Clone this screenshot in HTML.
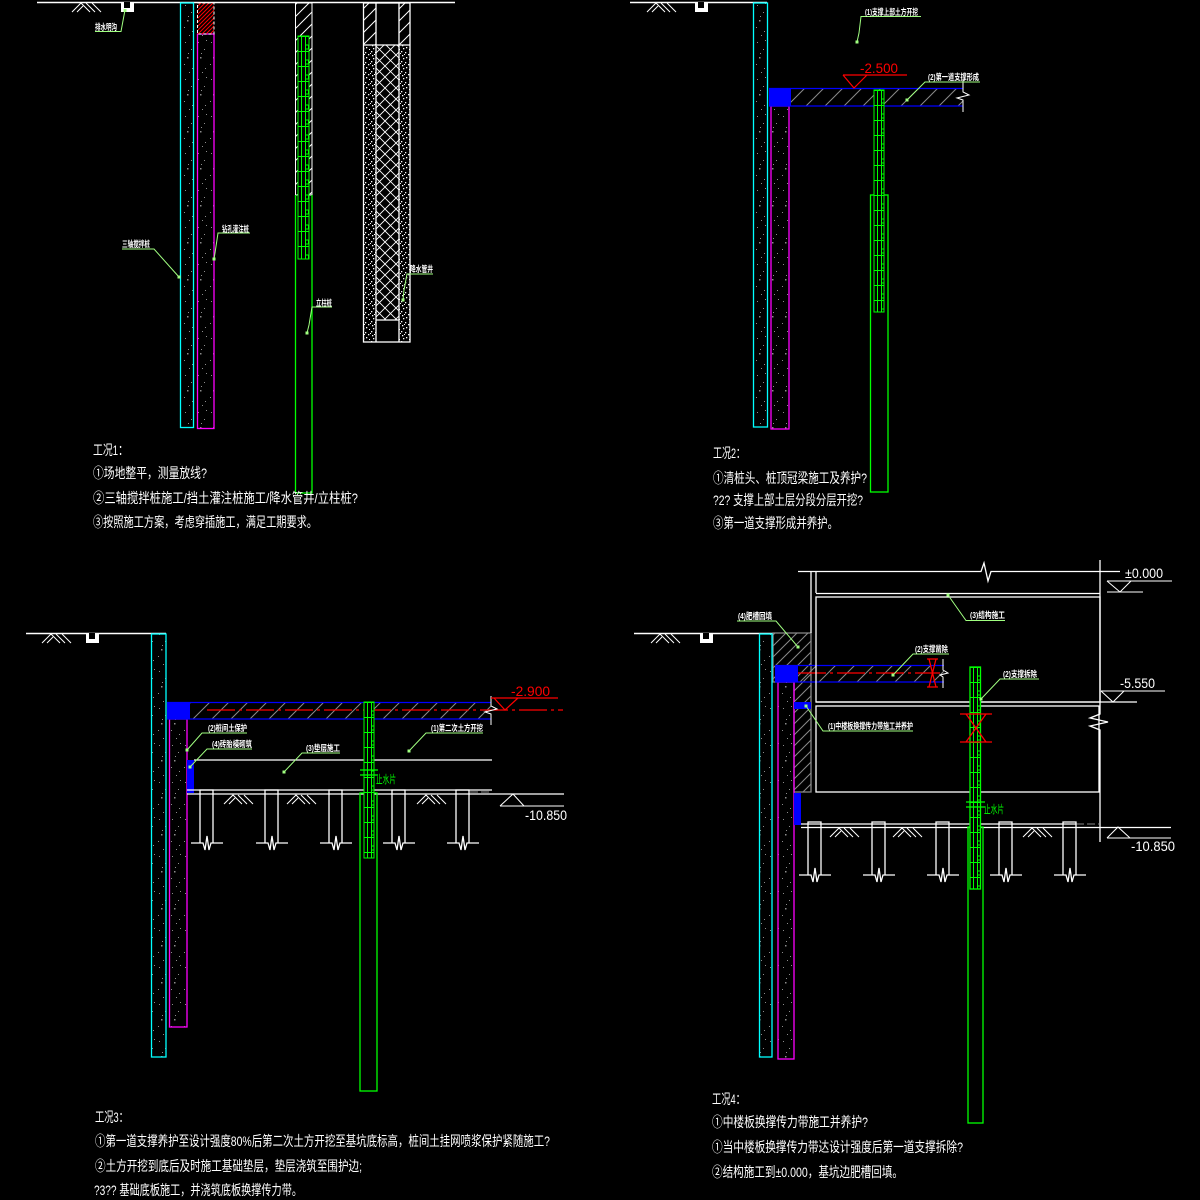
<!DOCTYPE html>
<html><head><meta charset="utf-8"><style>html,body{margin:0;padding:0;background:#000;}svg{display:block}</style></head>
<body>
<svg xmlns="http://www.w3.org/2000/svg" width="1200" height="1200" viewBox="0 0 1200 1200">
<defs>
<pattern id="hg" patternUnits="userSpaceOnUse" width="19" height="19"><path d="M0,19 L19,0 M-1,1 L1,-1 M18,20 L20,18" stroke="#8a8a8a" stroke-width="1"/></pattern>
<pattern id="hg2" patternUnits="userSpaceOnUse" width="11" height="11"><path d="M0,11 L11,0 M-1,1 L1,-1 M10,12 L12,10" stroke="#8a8a8a" stroke-width="1"/></pattern>
<pattern id="hw" patternUnits="userSpaceOnUse" width="12" height="12"><path d="M0,12 L12,0 M-1,1 L1,-1 M11,13 L13,11" stroke="#fff" stroke-width="1"/></pattern>
<pattern id="hr" patternUnits="userSpaceOnUse" width="4" height="4"><path d="M0,4 L4,0 M-1,1 L1,-1 M3,5 L5,3" stroke="#f00" stroke-width="1"/></pattern>
<pattern id="xh" patternUnits="userSpaceOnUse" width="11" height="11"><path d="M0,0 L11,11 M0,11 L11,0" stroke="#fff" stroke-width="0.9"/></pattern>
<pattern id="dw" patternUnits="userSpaceOnUse" width="10" height="10"><g fill="#fff"><rect x="1" y="1" width="1.3" height="1.3"/><rect x="5" y="2" width="1.3" height="1.3"/><rect x="8" y="4" width="1.3" height="1.3"/><rect x="2" y="5" width="1.3" height="1.3"/><rect x="6" y="7" width="1.3" height="1.3"/><rect x="3" y="8" width="1.3" height="1.3"/><rect x="9" y="9" width="1" height="1"/><rect x="0" y="3" width="1" height="1"/><rect x="4" y="4" width="1" height="1"/></g></pattern>
<pattern id="sp" patternUnits="userSpaceOnUse" width="13" height="37"><g fill="#8c8c8c"><rect x="3" y="5" width="1" height="1"/><rect x="9" y="12" width="1" height="1"/><rect x="5" y="20" width="1.5" height="1.5"/><rect x="2" y="27" width="1" height="1"/><rect x="10" y="31" width="1" height="1"/><rect x="7" y="35" width="1" height="1"/><rect x="11" y="3" width="1" height="1"/><rect x="6" y="16" width="1" height="1"/></g></pattern>
<pattern id="lat" patternUnits="userSpaceOnUse" width="11" height="15"><path d="M3.5,0 V15 M7.5,0 V15 M0,0.5 H11" stroke="#0f0" stroke-width="1"/><rect x="7.5" y="9" width="3" height="4" fill="none" stroke="#0f0" stroke-width="1"/></pattern>
</defs>
<rect width="1200" height="1200" fill="#000"/>

<g fill="none" stroke-width="1">
<!-- ================= Q1 ================= -->
<line x1="37" y1="2.5" x2="455" y2="2.5" stroke="#fff" stroke-width="1.5"/>
<path d="M72,12 L81,3 L90,12 M86,3 L95,12 M92,3 L101,12 M77,12 L83,6" stroke="#fff"/>
<rect x="121" y="2" width="13" height="10" fill="#fff"/><rect x="124" y="2" width="6" height="6" fill="#000"/>
<rect x="180.5" y="3" width="13" height="424.5" fill="url(#sp)" stroke="#0ff" stroke-width="1.3"/>
<rect x="197.5" y="34" width="16.5" height="394.5" fill="url(#sp)" stroke="#f0f" stroke-width="1.3"/>
<rect x="197.5" y="3" width="16.5" height="31" fill="url(#hr)" stroke="#fff" stroke-dasharray="3 2"/>
<rect x="295.5" y="3" width="16.5" height="192" fill="url(#hw)" stroke="#fff"/>
<path d="M295.5,195 V493 H312 V195" stroke="#0f0" stroke-width="1.3"/>
<g transform="translate(298,36)"><rect width="11" height="223" fill="#000"/><rect width="11" height="223" fill="url(#lat)" stroke="#0f0"/></g>
<rect x="363.5" y="3" width="12.5" height="42" fill="url(#hw)"/>
<rect x="399" y="3" width="11" height="42" fill="url(#hw)"/>
<rect x="364" y="45" width="12" height="297" fill="url(#dw)"/>
<rect x="399" y="45" width="11" height="297" fill="url(#dw)"/>
<rect x="376" y="45" width="23" height="275" fill="url(#xh)"/>
<rect x="363.5" y="3" width="46.5" height="339" stroke="#fff" stroke-width="1.3"/>
<path d="M376,3 V342 M399,3 V342 M363,45 H410 M376,320 H399" stroke="#fff" stroke-width="1.3"/>
<!-- Q1 leaders -->
<path d="M95,31.5 H121 L125,10 M122,249 H154 L179,277 M250,233 H218 L215,253 L214,259 M332,307 H312 L309,325 L307,333 M433,274 H407 L404,290 L403,300" stroke="#a0ff80"/>
<g fill="#a0ff80"><rect x="123.5" y="9" width="3" height="3"/><rect x="177.5" y="275.5" width="3" height="3"/><rect x="212.5" y="257.5" width="3" height="3"/><rect x="305.5" y="331.5" width="3" height="3"/><rect x="401.5" y="298.5" width="3" height="3"/></g>

<!-- ================= Q2 ================= -->
<line x1="630" y1="2.5" x2="767" y2="2.5" stroke="#fff" stroke-width="1.5"/>
<path d="M647,12 L656,3 L665,12 M661,3 L670,12 M667,3 L676,12 M652,12 L658,6" stroke="#fff"/>
<rect x="695" y="2" width="13" height="10" fill="#fff"/><rect x="698" y="2" width="6" height="6" fill="#000"/>
<rect x="753.5" y="3" width="14" height="424" fill="url(#sp)" stroke="#0ff" stroke-width="1.3"/>
<rect x="771" y="106" width="18" height="323" fill="url(#sp)" stroke="#f0f" stroke-width="1.3"/>
<rect x="791" y="88" width="172" height="18" fill="url(#hg)"/>
<path d="M769,88.5 H963 M769,106 H963" stroke="#00f" stroke-width="1.3"/>
<rect x="769" y="88" width="22" height="18" fill="#00f"/>
<path d="M963,80 V92 L969,95 L957,98 L963,100 V112" stroke="#fff"/>
<path d="M843,75 H907 M843,75 L854,88 L867,75" stroke="#f00" stroke-width="1.2"/>
<rect x="870.5" y="195" width="17.5" height="297" stroke="#0f0" stroke-width="1.3"/>
<g transform="translate(874,90)"><rect width="10" height="222" fill="#000"/><rect width="10" height="222" fill="url(#lat)" stroke="#0f0"/></g>
<path d="M921,16.5 H861 L859,33 L857,42 M980,82 H925 L907,100" stroke="#a0ff80"/>
<g fill="#a0ff80"><rect x="855.5" y="40.5" width="3" height="3"/><rect x="905.5" y="98.5" width="3" height="3"/></g>

<!-- ================= Q3 ================= -->
<line x1="26" y1="633.5" x2="166" y2="633.5" stroke="#fff" stroke-width="1.5"/>
<path d="M42,643 L51,634 L60,643 M56,634 L65,643 M62,634 L71,643 M47,643 L53,637" stroke="#fff"/>
<rect x="86" y="633" width="13" height="10" fill="#fff"/><rect x="89" y="633" width="6" height="6" fill="#000"/>
<rect x="151.5" y="634" width="14.5" height="423" fill="url(#sp)" stroke="#0ff" stroke-width="1.3"/>
<rect x="169.5" y="719" width="17.5" height="308" fill="url(#sp)" stroke="#f0f" stroke-width="1.3"/>
<rect x="190" y="702" width="301" height="17" fill="url(#hg)"/>
<path d="M167,702.5 H491 M167,719 H491" stroke="#00f" stroke-width="1.3"/>
<rect x="167" y="702" width="23" height="17" fill="#00f"/>
<line x1="207" y1="710" x2="563" y2="710" stroke="#f00" stroke-width="1.3" stroke-dasharray="28 4 3 4"/>
<path d="M491,696 V706 L497,709 L485,712 L491,714 V725" stroke="#fff"/>
<path d="M491,698 H558 M494,698 L505,710 L518,698" stroke="#f00" stroke-width="1.2"/>
<line x1="194" y1="760" x2="492" y2="760" stroke="#fff" stroke-width="1.3"/>
<rect x="187" y="760" width="7" height="33" fill="#00f"/>
<path d="M187,790 H492 M187,794 H492 V794 H564" stroke="#fff" stroke-width="1.3"/>
<line x1="470" y1="792" x2="492" y2="792" stroke="#888" stroke-dasharray="8 3"/>
<path d="M500,806 L513,794 L524,806 M500,806 H564" stroke="#fff"/>
<g stroke="#fff" stroke-width="1.3">
<path d="M200,843 V790 H213 V843 M191,843 H203 L205,850 L207,836 L209,850 L211,843 H223"/>
<path d="M265,843 V790 H278 V843 M256,843 H268 L270,850 L272,836 L274,850 L276,843 H288"/>
<path d="M329,843 V790 H342 V843 M320,843 H332 L334,850 L336,836 L338,850 L340,843 H352"/>
<path d="M392,843 V790 H405 V843 M383,843 H395 L397,850 L399,836 L401,850 L403,843 H415"/>
<path d="M456,843 V790 H469 V843 M447,843 H459 L461,850 L463,836 L465,850 L467,843 H479"/>
</g>
<path d="M224,804 L233,795 L242,804 M238,795 L247,804 M244,795 L253,804 M229,804 L235,798 M287,804 L296,795 L305,804 M301,795 L310,804 M307,795 L316,804 M292,804 L298,798 M417,804 L426,795 L435,804 M431,795 L440,804 M437,795 L446,804 M422,804 L428,798" stroke="#fff"/>
<rect x="360" y="793" width="17" height="298" stroke="#0f0" stroke-width="1.3"/>
<g transform="translate(364,702)"><rect width="10" height="156" fill="#000"/><rect width="10" height="156" fill="url(#lat)" stroke="#0f0"/></g>
<path d="M360,770 H378 M360,775 H378" stroke="#0f0" stroke-width="1.3"/>
<path d="M247,733 H202 L187,750 M252,749 H207 L190,767 M340,753 H302 L284,772 M483,733 H426 L409,751" stroke="#a0ff80"/>
<g fill="#a0ff80"><rect x="185.5" y="748.5" width="3" height="3"/><rect x="188.5" y="765.5" width="3" height="3"/><rect x="282.5" y="770.5" width="3" height="3"/><rect x="407.5" y="749.5" width="3" height="3"/></g>

<!-- ================= Q4 ================= -->
<line x1="634" y1="633.5" x2="773" y2="633.5" stroke="#fff" stroke-width="1.5"/>
<path d="M651,643 L660,634 L669,643 M665,634 L674,643 M671,634 L680,643 M656,643 L662,637" stroke="#fff"/>
<rect x="700" y="633" width="13" height="10" fill="#fff"/><rect x="703" y="633" width="6" height="6" fill="#000"/>
<path d="M773,633 H811 V792 H794 V682 H773 Z" fill="url(#hg2)" stroke="#8a8a8a" stroke-width="1.3"/>
<rect x="759.5" y="634" width="12.5" height="423" fill="url(#sp)" stroke="#0ff" stroke-width="1.3"/>
<rect x="778" y="682" width="16" height="377" fill="url(#sp)" stroke="#f0f" stroke-width="1.3"/>
<rect x="798" y="665" width="146" height="17" fill="url(#hg)"/>
<path d="M775,665.5 H944 M775,682 H944" stroke="#00f" stroke-width="1.3"/>
<rect x="775" y="665" width="23" height="17" fill="#00f"/>
<line x1="798" y1="673" x2="940" y2="673" stroke="#f00" stroke-width="1.3" stroke-dasharray="28 4 3 4"/>
<path d="M927,659 H938 M927,687 H938 M929,659 L936,687 M936,659 L929,687" stroke="#f00" stroke-width="1.3"/>
<path d="M943,659 V670 L948,673 L940,675 L943,677 V688" stroke="#fff"/>
<rect x="794" y="702" width="17" height="7" fill="#00f"/>
<rect x="794" y="793" width="7" height="32" fill="#00f"/>
<!-- structure -->
<path d="M798,571.5 H981 L984,563 L988,581 L991,571.5 H1120" stroke="#fff" stroke-width="1.3"/>
<path d="M811,571 V633 M816,571 V593 M816,593.5 H1100" stroke="#fff" stroke-width="1.3"/>
<rect x="816" y="597" width="284" height="105" stroke="#fff" stroke-width="1.3"/>
<line x1="816" y1="702" x2="1137" y2="702" stroke="#fff" stroke-width="1.3"/>
<rect x="816" y="706" width="283" height="86" stroke="#fff" stroke-width="1.3"/>
<path d="M1100,560 V714 L1090,718 L1108,722 L1090,726 L1100,730 V842" stroke="#fff" stroke-width="1.3"/>
<path d="M1107,581 H1172 M1107,581 L1120,592 L1131,581 M1107,592 H1143" stroke="#fff"/>
<path d="M1101,691 H1165 M1101,691 L1113,702 L1124,691" stroke="#fff"/>
<path d="M801,824 H1076 M801,827.5 H1171" stroke="#fff" stroke-width="1.3"/>
<line x1="1076" y1="824" x2="1099" y2="824" stroke="#888" stroke-dasharray="8 3"/>
<path d="M1107,838 L1118,827 L1130,838 M1107,838 H1171" stroke="#fff"/>
<g stroke="#fff" stroke-width="1.3">
<path d="M808,875 V822 H821 V875 M799,875 H811 L813,882 L815,868 L817,882 L819,875 H831"/>
<path d="M872,875 V822 H885 V875 M863,875 H875 L877,882 L879,868 L881,882 L883,875 H895"/>
<path d="M936,875 V822 H949 V875 M927,875 H939 L941,882 L943,868 L945,882 L947,875 H959"/>
<path d="M999,875 V822 H1012 V875 M990,875 H1002 L1004,882 L1006,868 L1008,882 L1010,875 H1022"/>
<path d="M1063,875 V822 H1076 V875 M1054,875 H1066 L1068,882 L1070,868 L1072,882 L1074,875 H1086"/>
</g>
<path d="M830,837 L839,828 L848,837 M844,828 L853,837 M850,828 L859,837 M835,837 L841,831 M893,837 L902,828 L911,837 M907,828 L916,837 M913,828 L922,837 M898,837 L904,831 M1023,837 L1032,828 L1041,837 M1037,828 L1046,837 M1043,828 L1052,837 M1028,837 L1034,831" stroke="#fff"/>
<rect x="968" y="827" width="15" height="296" stroke="#0f0" stroke-width="1.3"/>
<g transform="translate(970,667)"><rect width="10.5" height="222" fill="#000"/><rect width="10.5" height="222" fill="url(#lat)" stroke="#0f0" stroke-width="1.3"/></g>
<path d="M960,714 H992 M960,742 H992 M966,714 L986,742 M986,714 L966,742" stroke="#f00" stroke-width="1.3"/>
<path d="M966,802 H985 M966,807 H985" stroke="#0f0" stroke-width="1.3"/>
<path d="M737,621 H776 L798,647 M1005,620.5 H966 L948,595 M949,654 H913 L893,675 M1039,679 H1000 L981,699 M913,731 H823 L806,706" stroke="#a0ff80"/>
<g fill="#a0ff80"><rect x="796.5" y="645.5" width="3" height="3"/><rect x="946.5" y="593.5" width="3" height="3"/><rect x="891.5" y="673.5" width="3" height="3"/><rect x="979.5" y="697.5" width="3" height="3"/><rect x="804.5" y="704.5" width="3" height="3"/></g>
</g>

<!-- ================= TEXT ================= -->
<g font-family="'Liberation Sans','Noto Sans CJK SC',sans-serif" fill="#fff" font-weight="bold" font-size="8.5">
<text x="95" y="30" textLength="22" lengthAdjust="spacingAndGlyphs">排水明沟</text>
<text x="122" y="247" textLength="28" lengthAdjust="spacingAndGlyphs">三轴搅拌桩</text>
<text x="222" y="232" textLength="27" lengthAdjust="spacingAndGlyphs">钻孔灌注桩</text>
<text x="316" y="306" textLength="16" lengthAdjust="spacingAndGlyphs">立柱桩</text>
<text x="410" y="272" textLength="23" lengthAdjust="spacingAndGlyphs">降水管井</text>
<text x="865" y="15" textLength="53" lengthAdjust="spacingAndGlyphs">(1)支撑上部土方开挖</text>
<text x="928" y="80" textLength="51" lengthAdjust="spacingAndGlyphs">(2)第一道支撑形成</text>
<text x="208" y="731" textLength="39" lengthAdjust="spacingAndGlyphs">(2)桩间土保护</text>
<text x="212" y="747" textLength="40" lengthAdjust="spacingAndGlyphs">(4)砖胎模砌筑</text>
<text x="306" y="751" textLength="34" lengthAdjust="spacingAndGlyphs">(3)垫层施工</text>
<text x="431" y="731" textLength="52" lengthAdjust="spacingAndGlyphs">(1)第二次土方开挖</text>
<text x="738" y="619" textLength="34" lengthAdjust="spacingAndGlyphs">(4)肥槽回填</text>
<text x="970" y="618" textLength="35" lengthAdjust="spacingAndGlyphs">(3)结构施工</text>
<text x="915" y="652" textLength="33" lengthAdjust="spacingAndGlyphs">(2)支撑凿除</text>
<text x="1003" y="677" textLength="34" lengthAdjust="spacingAndGlyphs">(2)支撑拆除</text>
<text x="828" y="729" textLength="85" lengthAdjust="spacingAndGlyphs">(1)中楼板换撑传力带施工并养护</text>
</g>
<g font-family="'Liberation Sans','Noto Sans CJK SC',sans-serif" fill="#0f0" font-size="11">
<text x="376" y="783" textLength="20" lengthAdjust="spacingAndGlyphs">止水片</text>
<text x="984" y="813" textLength="20" lengthAdjust="spacingAndGlyphs">止水片</text>
</g>
<g font-family="'Liberation Sans',sans-serif" font-size="14">
<text x="860" y="73" fill="#f00" textLength="38" lengthAdjust="spacingAndGlyphs">-2.500</text>
<text x="511" y="696" fill="#f00" textLength="39" lengthAdjust="spacingAndGlyphs">-2.900</text>
<text x="525" y="820" fill="#fff" textLength="42" lengthAdjust="spacingAndGlyphs">-10.850</text>
<text x="1125" y="578" fill="#fff" textLength="38" lengthAdjust="spacingAndGlyphs">±0.000</text>
<text x="1120" y="688" fill="#fff" textLength="35" lengthAdjust="spacingAndGlyphs">-5.550</text>
<text x="1131" y="851" fill="#fff" textLength="44" lengthAdjust="spacingAndGlyphs">-10.850</text>
</g>
<g font-family="'Liberation Sans','Noto Sans CJK SC',sans-serif" fill="#fff" font-size="14">
<text x="93" y="455" textLength="35" lengthAdjust="spacingAndGlyphs">工况1：</text>
<text x="93" y="478" textLength="114" lengthAdjust="spacingAndGlyphs">①场地整平，测量放线?</text>
<text x="93" y="503" textLength="265" lengthAdjust="spacingAndGlyphs">②三轴搅拌桩施工/挡土灌注桩施工/降水管井/立柱桩?</text>
<text x="93" y="527" textLength="224" lengthAdjust="spacingAndGlyphs">③按照施工方案，考虑穿插施工，满足工期要求。</text>

<text x="713" y="458" textLength="32" lengthAdjust="spacingAndGlyphs">工况2：</text>
<text x="713" y="483" textLength="154" lengthAdjust="spacingAndGlyphs">①清桩头、桩顶冠梁施工及养护?</text>
<text x="713" y="505" textLength="150" lengthAdjust="spacingAndGlyphs">?2? 支撑上部土层分段分层开挖?</text>
<text x="713" y="528" textLength="125" lengthAdjust="spacingAndGlyphs">③第一道支撑形成并养护。</text>

<text x="95" y="1122" textLength="33" lengthAdjust="spacingAndGlyphs">工况3：</text>
<text x="95" y="1146" textLength="455" lengthAdjust="spacingAndGlyphs">①第一道支撑养护至设计强度80%后第二次土方开挖至基坑底标高，桩间土挂网喷浆保护紧随施工?</text>
<text x="95" y="1171" textLength="267" lengthAdjust="spacingAndGlyphs">②土方开挖到底后及时施工基础垫层，垫层浇筑至围护边;</text>
<text x="94" y="1195" textLength="208" lengthAdjust="spacingAndGlyphs">?3?? 基础底板施工，并浇筑底板换撑传力带。</text>

<text x="712" y="1104" textLength="33" lengthAdjust="spacingAndGlyphs">工况4：</text>
<text x="712" y="1127" textLength="156" lengthAdjust="spacingAndGlyphs">①中楼板换撑传力带施工并养护?</text>
<text x="712" y="1152" textLength="251" lengthAdjust="spacingAndGlyphs">①当中楼板换撑传力带达设计强度后第一道支撑拆除?</text>
<text x="712" y="1177" textLength="191" lengthAdjust="spacingAndGlyphs">②结构施工到±0.000，基坑边肥槽回填。</text>
</g>
</svg>
</body></html>
